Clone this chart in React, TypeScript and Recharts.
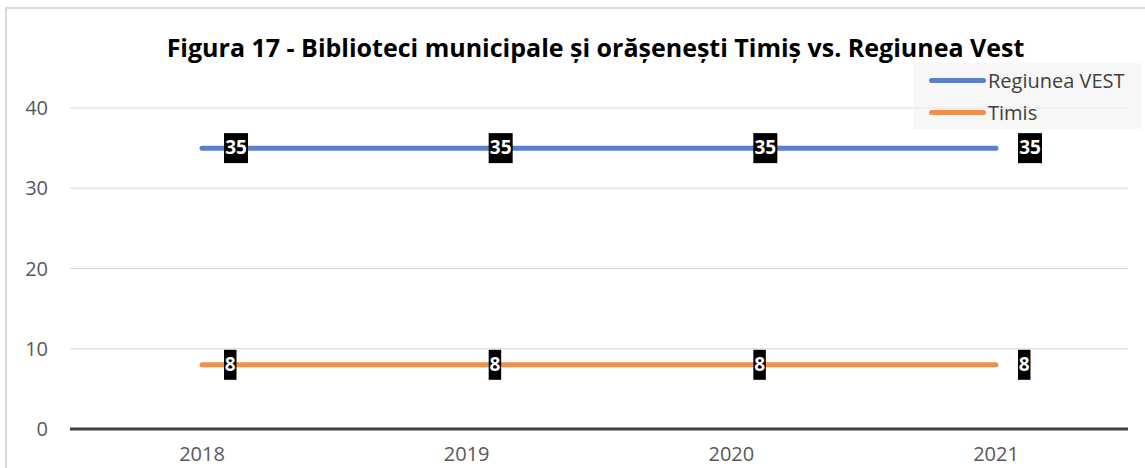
import React from "react";
import { LineChart, Line, XAxis, YAxis, CartesianGrid, LabelList } from "recharts";

const years = ["2018", "2019", "2020", "2021"];
const regiuneaVest = [35, 35, 35, 35];
const timis = [8, 8, 8, 8];
const yTicks = [0, 10, 20, 30, 40];

const data = years.map((y, i) => ({ year: y, vest: regiuneaVest[i], timis: timis[i] }));

const FONT = "'Open Sans', 'Noto Sans', sans-serif";
const BLUE = "#5B7FCB";
const ORANGE = "#F0904C";

const BoxLabel = (props: any) => {
  const { x, y, value } = props;
  const s = String(value);
  const w = s.length * 11.5 + 1;
  const left = x + 22;
  return (
    <g>
      <rect x={left} y={y - 15} width={w} height={30} fill="#000" />
      <text
        x={left + w / 2}
        y={y + 1}
        textAnchor="middle"
        dominantBaseline="middle"
        fill="#fff"
        fontFamily={FONT}
        fontWeight={700}
        fontSize={19}
      >
        {s}
      </text>
    </g>
  );
};

export default function App() {
  return (
    <div style={{ position: "absolute", left: 0, top: 0, width: 1145, height: 468, overflow: "hidden", background: "#fff" }}>
      <div
        style={{
          position: "absolute",
          left: 5,
          top: 7,
          width: 1160,
          height: 500,
          border: "2px solid #d9d9d9",
          boxSizing: "border-box",
        }}
      />
      <div
        style={{
          position: "absolute",
          left: 0,
          width: 1191,
          top: 30,
          textAlign: "center",
          fontFamily: FONT,
          fontWeight: 700,
          fontSize: 25,
          color: "#000",
          lineHeight: "34px",
          whiteSpace: "nowrap",
        }}
      >
        Figura 17 - Biblioteci municipale și orășenești Timiș vs. Regiunea Vest
      </div>
      <div style={{ position: "absolute", left: 0, top: 0 }}>
        <LineChart width={1145} height={468} data={data} margin={{ top: 108, right: 17, bottom: 0, left: 0 }}>
          <CartesianGrid vertical={false} stroke="#d9d9d9" strokeWidth={1} />
          <XAxis
            dataKey="year"
            padding={{ left: 132, right: 132 }}
            stroke="#404040"
            strokeWidth={3}
            tickLine={false}
            tick={{ fill: "#595959", fontSize: 20, fontFamily: FONT }}
            tickMargin={12}
            height={39}
          />
          <YAxis
            domain={[0, 40]}
            ticks={yTicks}
            width={70}
            axisLine={false}
            tickLine={false}
            tick={{ fill: "#595959", fontSize: 20, fontFamily: FONT }}
            tickMargin={16}
          />
          <Line
            type="linear"
            dataKey="vest"
            stroke={BLUE}
            strokeWidth={5}
            strokeLinecap="round"
            dot={false}
            activeDot={false}
            isAnimationActive={false}
          >
            <LabelList dataKey="vest" content={BoxLabel} />
          </Line>
          <Line
            type="linear"
            dataKey="timis"
            stroke={ORANGE}
            strokeWidth={5}
            strokeLinecap="round"
            dot={false}
            activeDot={false}
            isAnimationActive={false}
          >
            <LabelList dataKey="timis" content={BoxLabel} />
          </Line>
        </LineChart>
      </div>
      <div
        style={{
          position: "absolute",
          left: 913,
          top: 63,
          width: 228,
          height: 66,
          background: "rgba(242,242,242,0.6)",
          fontFamily: FONT,
          fontSize: 20,
          color: "#404040",
        }}
      >
        {[
          { name: "Regiunea VEST", color: BLUE, top: 4 },
          { name: "Timis", color: ORANGE, top: 36 },
        ].map((it) => (
          <div key={it.name} style={{ position: "absolute", left: 16, top: it.top, height: 26, display: "flex", alignItems: "center", whiteSpace: "nowrap" }}>
            <div style={{ width: 57, height: 5, borderRadius: 3, background: it.color, marginRight: 2 }} />
            <span>{it.name}</span>
          </div>
        ))}
      </div>
    </div>
  );
}
